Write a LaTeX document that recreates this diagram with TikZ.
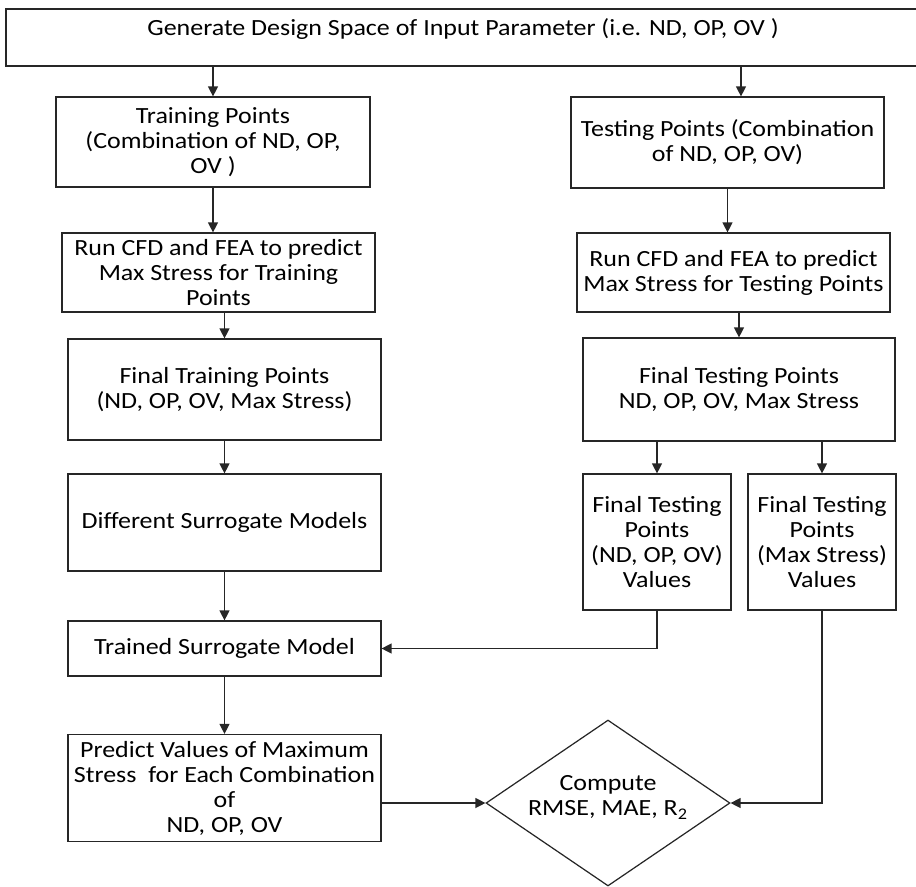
\documentclass[tikz,border=0pt]{standalone}
\usepackage{fontspec}
\setmainfont[FakeStretch=1.12]{Carlito}
\usetikzlibrary{arrows.meta,shapes.geometric}
\begin{document}
\begin{tikzpicture}[x=0.02cm,y=-0.02cm,
  box/.style={draw=black!85,line width=0.7pt,rectangle,inner sep=0pt,align=center,
    font=\fontsize{13.2}{14.2}\selectfont},
  arr/.style={draw=black!85,line width=0.7pt,-{Triangle[length=0.2cm,width=0.2cm]}}]
\useasboundingbox (0,0) rectangle (916,886);

% top box (its right side runs past the page edge)
\node[box,minimum width=18.28cm,minimum height=1.14cm] (top) at (463,37.5)
  {Generate Design Space of Input Parameter (i.e. ND, OP, OV )\\[-2pt]\mbox{}};

% training branch
\node[box,minimum width=6.28cm,minimum height=1.8cm] (train) at (213,142)
  {Training Points\\(Combination of ND, OP,\\OV )};
\node[box,minimum width=6.26cm,minimum height=1.58cm] (runtrain) at (218.5,272.5)
  {Run CFD and FEA to predict\\Max Stress for Training\\Points};
\node[box,minimum width=6.26cm,minimum height=2.02cm] (fintrain) at (224.5,389.5)
  {Final Training Points\\(ND, OP, OV, Max Stress)};
\node[box,minimum width=6.26cm,minimum height=1.94cm] (diff) at (224.5,522.5)
  {Different Surrogate Models};
\node[box,minimum width=6.26cm,minimum height=1.1cm] (trained) at (224.5,648.5)
  {Trained Surrogate Model};
\node[box,minimum width=6.26cm,minimum height=2.14cm] (predict) at (224.5,788)
  {Predict Values of Maximum\\Stress\ \ for Each Combination\\of\\ND, OP, OV};

% testing branch
\node[box,minimum width=6.26cm,minimum height=1.82cm] (test) at (727.5,142.5)
  {Testing Points (Combination\\of ND, OP, OV)};
\node[box,minimum width=6.26cm,minimum height=1.58cm] (runtest) at (733.5,272.5)
  {Run CFD and FEA to predict\\Max Stress for Testing Points};
\node[box,minimum width=6.24cm,minimum height=2.06cm] (fintest) at (739,389.5)
  {Final Testing Points\\ND, OP, OV, Max Stress};
\node[box,minimum width=2.96cm,minimum height=2.72cm] (ftvin) at (657,542)
  {Final Testing\\Points\\(ND, OP, OV)\\Values};
\node[box,minimum width=2.96cm,minimum height=2.72cm] (ftvout) at (822,542)
  {Final Testing\\Points\\(Max Stress)\\Values};

% error metrics
\node[box,shape=diamond,aspect=1.47,minimum width=4.88cm,minimum height=3.32cm] (metric) at (608,803)
  {Compute\\RMSE, MAE, R\textsubscript{2}\\[-6pt]\mbox{}};

% connectors
\draw[arr] (top.south -| train.north) -- (train.north);
\coordinate (tin) at ([xshift=0.27cm]test.north);
\draw[arr] (top.south -| tin) -- (tin);
\draw[arr] (train.south) -- (train.south |- runtrain.north);
\draw[arr] (test.south) -- (test.south |- runtest.north);
\draw[arr] (runtrain.south -| fintrain.north) -- (fintrain.north);
\draw[arr] (runtest.south -| fintest.north) -- (fintest.north);
\draw[arr] (fintrain.south) -- (diff.north);
\draw[arr] (diff.south) -- (trained.north);
\draw[arr] (fintest.south -| ftvin.north) -- (ftvin.north);
\draw[arr] (fintest.south -| ftvout.north) -- (ftvout.north);
\draw[arr] (ftvin.south) |- (trained.east);
\draw[arr] (trained.south) -- (predict.north);
\draw[arr] (predict.east |- metric.west) -- (metric.west);
\draw[arr] (ftvout.south) |- (metric.east);
\end{tikzpicture}
\end{document}
